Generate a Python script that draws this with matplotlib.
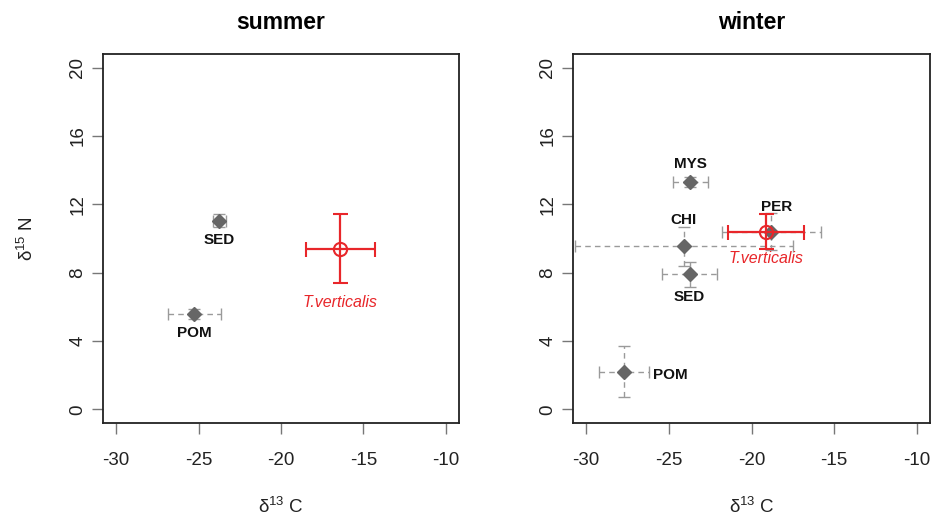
import matplotlib
matplotlib.use('Agg')
import matplotlib.pyplot as plt

plt.rcParams['font.family'] = ['Liberation Sans', 'DejaVu Sans']
plt.rcParams['mathtext.fontset'] = 'custom'
plt.rcParams['mathtext.rm'] = 'Liberation Sans'
plt.rcParams['mathtext.default'] = 'regular'

# summer sources
s_names = ['SED', 'POM']
s_x = [-23.75, -25.25]
s_y = [11.05, 5.6]
s_xerr = [0.4, 1.6]
s_yerr = [0.4, 0.3]
s_cons = (-16.4, 9.4, 2.1, 2.03)  # T.verticalis: x, y, xerr, yerr

# winter sources
w_names = ['MYS', 'CHI', 'SED', 'PER', 'POM']
w_x = [-23.7, -24.1, -23.75, -18.8, -27.7]
w_y = [13.3, 9.55, 7.9, 10.4, 2.2]
w_xerr = [1.05, 6.6, 1.65, 3.0, 1.5]
w_yerr = [0.3, 1.15, 0.75, 1.1, 1.5]
w_cons = (-19.15, 10.4, 2.3, 1.03)

xticks = [-30, -25, -20, -15, -10]
yticks = [0, 4, 8, 12, 16, 20]

# label offsets in points (dx, dy, ha, va)
s_lab = {'SED': (0, -9, 'center', 'top'), 'POM': (0, -9, 'center', 'top')}
w_lab = {'MYS': (0, 8, 'center', 'bottom'), 'CHI': (0, 14, 'center', 'bottom'),
         'SED': (0, -11, 'center', 'top'), 'PER': (4, 13, 'center', 'bottom'),
         'POM': (20.5, -2, 'left', 'center')}

fig = plt.figure(figsize=(9.33, 5.2), dpi=100)
W, H = 933, 520
ax1 = fig.add_axes([103 / W, 97 / H, 356 / W, 369 / H])
ax2 = fig.add_axes([573 / W, 97 / H, 357 / W, 369 / H])

gray = '#666666'
red = '#e8262a'


def panel(ax, title, names, xs, ys, xe, ye, cons, labs, cons_lab_dy):
    for n, x, y, dx, dy in zip(names, xs, ys, xe, ye):
        eb = ax.errorbar(x, y, xerr=dx, yerr=dy, fmt='none', ecolor='#9a9a9a',
                         elinewidth=1.0, capsize=4.5, capthick=1.0, zorder=2)
        for lc in eb[2]:
            lc.set_linestyle((0, (4, 3)))
        ax.plot(x, y, marker='D', color=gray, markersize=7, ls='none', zorder=3)
        ox, oy, ha, va = labs[n]
        ax.annotate(n, (x, y), xytext=(ox, oy), textcoords='offset points',
                    ha=ha, va=va, fontsize=11, fontweight='bold', color='#111111')
    cx, cy, cdx, cdy = cons
    ax.errorbar(cx, cy, xerr=cdx, yerr=cdy, fmt='o', mfc='none', mec=red,
                ecolor=red, color=red, markersize=9.5, mew=1.5, elinewidth=1.6,
                capsize=5.4, capthick=1.6, zorder=4)
    ax.annotate('T.verticalis', (cx, cy - cdy), xytext=(0, cons_lab_dy),
                textcoords='offset points', ha='center', va='top',
                fontsize=11.5, style='italic', color=red)
    ax.set_xlim(-30.8, -9.2)
    ax.set_ylim(-0.8, 20.8)
    ax.set_xticks(xticks)
    ax.set_yticks(yticks)
    ax.set_xticklabels([str(t) for t in xticks])
    ax.set_yticklabels([str(t) for t in yticks], rotation=90, va='center')
    ax.tick_params(length=8, width=1, color='#777777', labelsize=13.5,
                   labelcolor='#222222')
    ax.tick_params(axis='x', pad=13)
    ax.tick_params(axis='y', pad=4)
    for sp in ax.spines.values():
        sp.set_linewidth(1.3)
        sp.set_color('#222222')
    ax.set_title(title, fontsize=16.5, fontweight='bold', pad=18)
    ax.set_xlabel(r'$\delta^{13}$ C', fontsize=13.5, labelpad=20, color='#222222')


panel(ax1, 'summer', s_names, s_x, s_y, s_xerr, s_yerr, s_cons, s_lab, -8)
panel(ax2, 'winter', w_names, w_x, w_y, w_xerr, w_yerr, w_cons, w_lab, -1)
ax1.set_ylabel(r'$\delta^{15}$ N', fontsize=13.5, labelpad=23, color='#222222')

fig.savefig('out.png', dpi=100)
